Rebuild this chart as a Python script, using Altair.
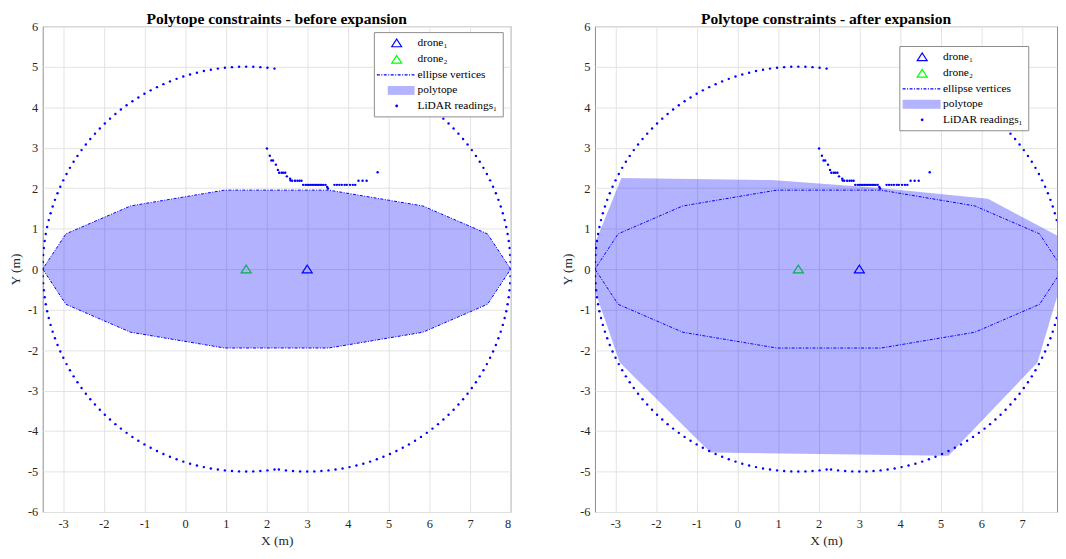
import math
import altair as alt
import pandas as pd

SERIF = "Liberation Serif"
BLUE = "#0000ff"
GREEN = "#00ff00"

# ---------------- data ----------------
drone_names = ["drone₁", "drone₂"]
drone_x = [3.0, 1.5]
drone_y = [0.0, 0.0]

legend_labels = ["drone₁", "drone₂", "ellipse vertices", "polytope", "LiDAR readings₁"]

# ellipse vertices (closed polygon)
ellipse_x = [8.0, 7.43, 5.84, 3.53, 0.97, -1.34, -2.93, -3.5, -2.93, -1.34, 0.97, 3.53, 5.84, 7.43, 8.0]
ellipse_y = [0.0, 0.87, 1.56, 1.95, 1.95, 1.56, 0.87, 0.0, -0.87, -1.56, -1.95, -1.95, -1.56, -0.87, 0.0]

# polytope before expansion (same as the ellipse polygon)
poly_before_x = [8.0, 7.43, 5.84, 3.53, 0.97, -1.34, -2.93, -3.5, -2.93, -1.34, 0.97, 3.53, 5.84, 7.43]
poly_before_y = [0.0, 0.87, 1.56, 1.95, 1.95, 1.56, 0.87, 0.0, -0.87, -1.56, -1.95, -1.95, -1.56, -0.87]

# polytope after expansion
poly_after_x = [-2.85, 0.84, 3.50, 6.16, 8.25, 7.38, 5.19, -0.66, -2.89, -3.72]
poly_after_y = [2.25, 2.20, 2.00, 1.74, 0.62, -2.31, -4.61, -4.53, -2.31, 0.10]

# LiDAR: range-limited sweep (two sensor centres, radius 5 m, 2 degree beams)
sweep_centre_x = [1.5, 3.0]
sweep_radius = [5.0, 5.0]
sweep_start_deg = [82, 262]
sweep_stop_deg = [278, 410]
sweep_step_deg = 2

# LiDAR hits on the obstacle
obstacle_x = [2.01, 2.08, 2.12, 2.16, 2.23, 2.28, 2.31, 2.37, 2.41, 2.46, 2.50, 2.58, 2.59,
              2.63, 2.70, 2.76, 2.81, 2.86,
              2.90, 2.96, 3.00, 3.04, 3.08, 3.12, 3.16, 3.20, 3.24, 3.28, 3.32, 3.36, 3.40, 3.45,
              3.49, 3.51,
              3.67, 3.73, 3.79, 3.85, 3.92, 3.97, 4.05, 4.12, 4.18,
              4.26, 4.36, 4.46, 4.73]
obstacle_y = [2.98, 2.80, 2.68, 2.68, 2.58, 2.45, 2.38, 2.38, 2.38, 2.38, 2.29, 2.23, 2.19,
              2.18, 2.18, 2.18, 2.18, 2.18,
              2.08, 2.08, 2.08, 2.08, 2.08, 2.08, 2.08, 2.08, 2.08, 2.08, 2.08, 2.08, 2.08, 2.08,
              2.03, 1.99,
              2.08, 2.08, 2.08, 2.08, 2.08, 2.08, 2.08, 2.08, 2.08,
              2.18, 2.18, 2.18, 2.39]

# ---------------- tables ----------------
lx, ly = [], []
for cx, r, a0, a1 in zip(sweep_centre_x, sweep_radius, sweep_start_deg, sweep_stop_deg):
    for a in range(a0, a1 + 1, sweep_step_deg):
        t = math.radians(a)
        lx.append(cx + r * math.cos(t))
        ly.append(r * math.sin(t))
lidar_df = pd.DataFrame({"x": lx + obstacle_x, "y": ly + obstacle_y})
drones_df = pd.DataFrame({"x": drone_x, "y": drone_y, "series": drone_names})
ellipse_df = pd.DataFrame({"x": ellipse_x, "y": ellipse_y, "i": list(range(len(ellipse_x)))})

TRI = "M0,-0.8L1,0.75L-1,0.75Z"
DOT = "M-0.28,0A0.28,0.28,0,1,0,0.28,0A0.28,0.28,0,1,0,-0.28,0Z"


def make_legend(lgx, lgy, pad_spaces):
    return alt.Legend(
        title=None,
        orient="none",
        legendX=lgx,
        legendY=lgy,
        direction="vertical",
        fillColor="white",
        strokeColor="#8c8c8c",
        padding=5,
        cornerRadius=0,
        labelFont=SERIF,
        labelFontSize=11.5,
        labelColor="black",
        labelExpr="datum.label + '%s'" % (" " * pad_spaces),
        symbolSize=100,
        symbolOffset=12,
        labelOffset=15,
        rowPadding=2.6,
        symbolStrokeWidth=1.2,
        symbolFillColor="transparent",
        symbolOpacity=1,
    )


def panel(title, px, py, xmax, width, xticks, legend, line_path, rect_path):
    xs = alt.Scale(domain=[-3.5, xmax], nice=False, zero=False)
    ys = alt.Scale(domain=[-6, 6], nice=False, zero=False)
    common = dict(labelExpr="'' + datum.value", labelFont=SERIF, labelFontSize=12.5,
                  labelColor="#262626", titleFont=SERIF, titleFontSize=13.5,
                  titleFontWeight="normal", titleColor="#262626", grid=True,
                  gridColor="#e3e3e3", gridWidth=1, domain=False, ticks=False)
    xax = alt.Axis(values=xticks, title="X (m)", labelPadding=6, titlePadding=3, **common)
    yax = alt.Axis(values=list(range(-6, 7)), title="Y (m)", labelPadding=5, titlePadding=5,
                   **common)
    poly_df = pd.DataFrame({"x": px, "y": py, "i": list(range(len(px)))})

    drones = alt.Chart(drones_df).mark_point(size=100, strokeWidth=1.2, opacity=1, clip=True).encode(
        x=alt.X("x:Q", scale=xs, axis=xax),
        y=alt.Y("y:Q", scale=ys, axis=yax),
        shape=alt.Shape("series:N",
                        scale=alt.Scale(domain=legend_labels,
                                        range=[TRI, TRI, line_path, rect_path, DOT]),
                        legend=legend),
        stroke=alt.Stroke("series:N",
                          scale=alt.Scale(domain=legend_labels,
                                          range=[BLUE, GREEN, BLUE, "transparent", "transparent"]),
                          legend=legend),
        fill=alt.Fill("series:N",
                      scale=alt.Scale(domain=legend_labels,
                                      range=["transparent", "transparent", "transparent",
                                             "#b3b3ff", BLUE]),
                      legend=legend),
        strokeDash=alt.StrokeDash("series:N",
                                  scale=alt.Scale(domain=legend_labels,
                                                  range=[[1, 0], [1, 0], [3, 1.5, 1, 1.5],
                                                         [1, 0], [1, 0]]),
                                  legend=legend),
    )
    poly = alt.Chart(poly_df).mark_line(fill=BLUE, fillOpacity=0.3, stroke=BLUE, strokeOpacity=0,
                                        strokeWidth=0, clip=True).encode(
        x="x:Q", y="y:Q", order="i:Q")
    ell = alt.Chart(ellipse_df).mark_line(color=BLUE, strokeWidth=1, strokeDash=[3, 1.5, 1, 1.5],
                                          clip=True).encode(
        x="x:Q", y="y:Q", order="i:Q")
    lid = alt.Chart(lidar_df).mark_circle(size=6, color=BLUE, opacity=1, clip=True).encode(
        x="x:Q", y="y:Q")
    return alt.layer(drones, poly, ell, lid).properties(
        width=width, height=490,
        title=alt.TitleParams(title, font=SERIF, fontSize=15.7, fontWeight="bold", color="black",
                              offset=-8, anchor="middle", frame="group"),
    )


left = panel("Polytope constraints - before expansion", poly_before_x, poly_before_y, 8.0, 472,
             list(range(-3, 9)), make_legend(334, 6, 6),
             "M-4,0L3.6,0", "M-1.8,-0.9L3.6,-0.9L3.6,0.9L-1.8,0.9Z")
right = panel("Polytope constraints - after expansion", poly_after_x, poly_after_y, 7.86, 466,
              list(range(-3, 8)), make_legend(307, 20, 0),
              "M-3.94,0L3.72,0", "M-3.94,-0.9L3.72,-0.9L3.72,0.9L-3.94,0.9Z")

chart = alt.hconcat(left, right, spacing=49).resolve_scale(
    shape="independent", stroke="independent", fill="independent", strokeDash="independent"
).resolve_legend(
    shape="independent", stroke="independent", fill="independent", strokeDash="independent"
).properties(padding=0, background="white").configure_view(
    stroke="#8c8c8c", strokeWidth=1
)

chart.save("out.html", embed_options={"renderer": "svg", "actions": False})
